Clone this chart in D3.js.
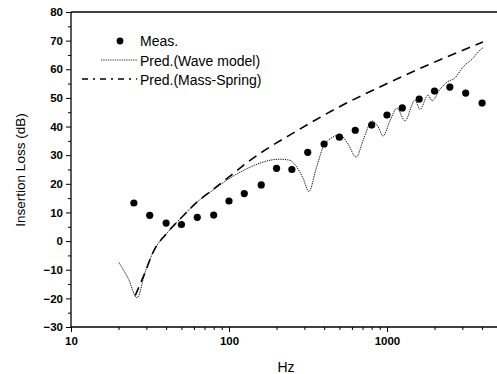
<!DOCTYPE html>
<html>
<head>
<meta charset="utf-8">
<script src="https://cdn.jsdelivr.net/npm/d3@7"></script>
<style>
  body { margin: 0; background: #fff; }
  text { font-family: "Liberation Sans", Arial, sans-serif; }
</style>
</head>
<body>
<script>
// measured insertion loss, 1/3 octave bands
var measFreq = [25, 31.5, 40, 50, 63, 80, 100, 125, 160, 200, 250, 315, 400, 500, 630, 800, 1000, 1250, 1600, 2000, 2500, 3150, 4000];
var measIL   = [13.3, 9, 6.3, 5.8, 8.3, 9.1, 14, 16.6, 19.6, 25.4, 25, 31, 33.9, 36.3, 38.7, 40.5, 44, 46.5, 49.6, 52.4, 53.8, 51.7, 48.2];

// wave model prediction
var waveFreq = [20.1, 23, 26.2, 29.4, 33, 40.5, 50.4, 62.7, 79.2, 101.5, 136, 169, 210, 243, 269, 294, 321, 355, 405, 504, 566, 637, 715, 804, 877, 944, 1045, 1157, 1300, 1504, 1618, 1818, 1927, 2165, 2398, 2695, 3027, 3451, 3879, 4051];
var waveIL   = [-7.5, -13, -19.8, -11, -4, 2.8, 8.4, 13.6, 17.8, 22, 25.8, 27.8, 28.6, 28.2, 25.8, 22, 17.3, 25, 34, 37, 34, 29.3, 36, 42, 40, 36.7, 42, 46.4, 42, 49.2, 46, 51, 49, 53, 55.5, 57, 60.8, 63.5, 66.7, 67.5];

// mass-spring prediction
var msFreq = [25.5, 29.4, 33, 40.5, 50.4, 62.7, 79.2, 101.5, 136, 269, 504, 1000, 2000, 4051];
var msIL   = [-19, -11, -4, 2.8, 8.4, 13.6, 18, 22.7, 28.2, 38.5, 47, 55, 62.5, 69.5];

var yTicks = [-30, -20, -10, 0, 10, 20, 30, 40, 50, 60, 70, 80];
var xTicks = [10, 100, 1000];
var legendLabels = ["Meas.", "Pred.(Wave model)", "Pred.(Mass-Spring)"];

var svg = d3.select("body").append("svg")
  .attr("width", 497)
  .attr("height", 374);

var x = d3.scaleLog().domain([10, 5000]).range([71, 497.4]);
var y = d3.scaleLinear().domain([-30, 80]).range([327, 12]);

// minor ticks
var xMinor = [];
[10, 100, 1000].forEach(function(d) {
  for (var k = 2; k <= 9; k++) if (d * k <= 5000) xMinor.push(d * k);
});
var yMinor = d3.range(-25, 80, 10);

svg.append("g")
  .attr("transform", "translate(0,327)")
  .call(d3.axisBottom(x).tickValues(xMinor).tickSize(3).tickFormat(""))
  .call(function(g) { g.select(".domain").remove(); });

svg.append("g")
  .attr("transform", "translate(71,0)")
  .call(d3.axisLeft(y).tickValues(yMinor).tickSize(3).tickFormat(""))
  .call(function(g) { g.select(".domain").remove(); });

var xAxis = svg.append("g")
  .attr("transform", "translate(0,327)")
  .call(d3.axisBottom(x).tickValues(xTicks).tickSize(5).tickPadding(5).tickFormat(d3.format("d")));

var yAxis = svg.append("g")
  .attr("transform", "translate(71,0)")
  .call(d3.axisLeft(y).tickValues(yTicks).tickSize(5).tickPadding(3));

[xAxis, yAxis].forEach(function(g) {
  g.selectAll("text")
    .attr("font-family", "Liberation Sans, Arial, sans-serif")
    .attr("font-size", 11.5)
    .attr("font-weight", "bold")
    .attr("fill", "#000");
  g.select(".domain").remove();
});

// frame lines (left, bottom, top)
svg.append("line").attr("x1", 71).attr("x2", 71).attr("y1", 12).attr("y2", 327)
  .attr("stroke", "#000").attr("stroke-width", 1.3);
svg.append("line").attr("x1", 71).attr("x2", 497).attr("y1", 327).attr("y2", 327)
  .attr("stroke", "#000").attr("stroke-width", 1.3);
svg.append("line").attr("x1", 71).attr("x2", 497).attr("y1", 12).attr("y2", 12)
  .attr("stroke", "#000").attr("stroke-width", 1.3);

// curves
var waveLine = d3.line()
  .x(function(d, i) { return x(waveFreq[i]); })
  .y(function(d) { return y(d); })
  .curve(d3.curveMonotoneX);

svg.append("path")
  .attr("d", waveLine(waveIL))
  .attr("fill", "none")
  .attr("stroke", "#111")
  .attr("stroke-width", 1)
  .attr("stroke-dasharray", "1.3,1");

var msLine = d3.line()
  .x(function(d, i) { return x(msFreq[i]); })
  .y(function(d) { return y(d); })
  .curve(d3.curveMonotoneX);

svg.append("path")
  .attr("d", msLine(msIL))
  .attr("fill", "none")
  .attr("stroke", "#000")
  .attr("stroke-width", 1.6)
  .attr("stroke-dasharray", "9,6");

// measured points
svg.selectAll("circle.meas")
  .data(measIL)
  .enter().append("circle")
  .attr("class", "meas")
  .attr("cx", function(d, i) { return x(measFreq[i]); })
  .attr("cy", function(d) { return y(d); })
  .attr("r", 3.6)
  .attr("fill", "#000");

// legend
var leg = svg.append("g");
leg.append("circle").attr("cx", 120).attr("cy", 41).attr("r", 3.4).attr("fill", "#000");
leg.append("line").attr("x1", 101).attr("x2", 137).attr("y1", 60).attr("y2", 60)
  .attr("stroke", "#333").attr("stroke-width", 1).attr("stroke-dasharray", "1.3,1");
leg.append("line").attr("x1", 82).attr("x2", 137).attr("y1", 79).attr("y2", 79)
  .attr("stroke", "#000").attr("stroke-width", 1.6).attr("stroke-dasharray", "6,5,2,5");

leg.selectAll("text")
  .data(legendLabels)
  .enter().append("text")
  .attr("x", 140)
  .attr("y", function(d, i) { return 46 + i * 19.5; })
  .attr("font-size", 14)
  .attr("fill", "#000")
  .text(function(d) { return d; });

// axis titles
svg.append("text")
  .attr("x", 286).attr("y", 372)
  .attr("text-anchor", "middle")
  .attr("font-size", 14)
  .text("Hz");

svg.append("text")
  .attr("transform", "translate(25,170) rotate(-90)")
  .attr("text-anchor", "middle")
  .attr("font-size", 13.5)
  .text("Insertion Loss (dB)");
</script>
</body>
</html>
